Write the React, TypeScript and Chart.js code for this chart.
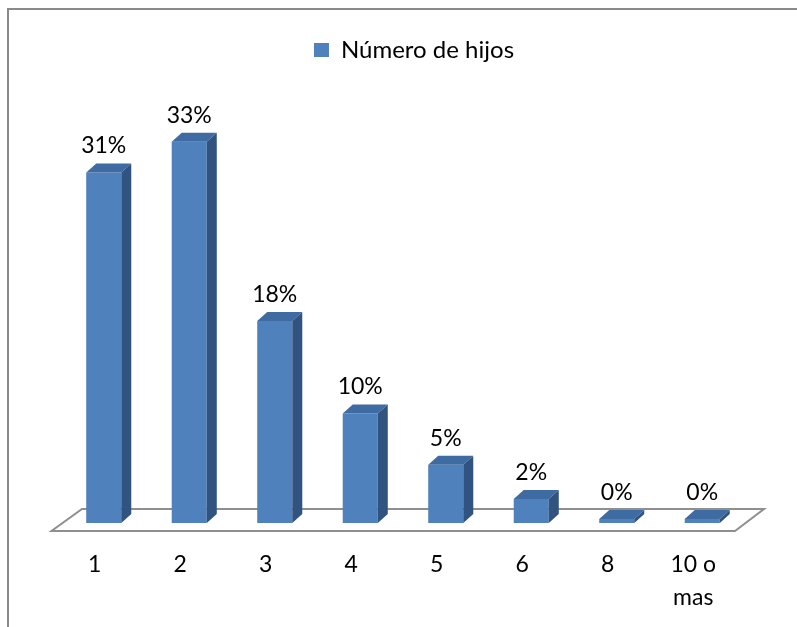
import React, { useEffect, useRef } from 'react';
import { Chart, registerables } from 'chart.js';

Chart.register(...registerables);

// ---- data ----
const CATEGORIES: (string | string[])[] = ['1', '2', '3', '4', '5', '6', '8', ['10 o', 'mas']];
const VALUES: number[] = [30.7, 33.4, 17.7, 9.6, 5.1, 2.1, 0.35, 0.35];
const SERIES_LABEL = 'Número de hijos';

// ---- styles ----
const FONT = 'Lato';
const FRONT = '#4F81BD';
const TOP = '#3F6BA3';
const SIDE = '#31537F';
const DEPTH = { dx: 10, dy: -9 };
const FLOOR_COLOR = '#8f8f8f';

const floorPlugin = {
  id: 'floor3d',
  beforeDatasetsDraw(chart: any) {
    const { ctx, chartArea } = chart;
    const yb = chart.scales.y.getPixelForValue(0);
    const { left, right } = chartArea;
    const fy = yb + 8;
    const by = yb - 14;
    ctx.save();
    ctx.beginPath();
    ctx.moveTo(left - 9.5, fy);
    ctx.lineTo(right - 10, fy);
    ctx.lineTo(right + 19, by);
    ctx.lineTo(left + 21, by);
    ctx.closePath();
    ctx.lineWidth = 2;
    ctx.strokeStyle = FLOOR_COLOR;
    ctx.stroke();
    ctx.restore();
  },
};

const bar3dPlugin = {
  id: 'bar3d',
  afterDatasetsDraw(chart: any) {
    const { ctx } = chart;
    const meta = chart.getDatasetMeta(0);
    const ds = chart.data.datasets[0];
    ctx.save();
    meta.data.forEach((el: any, i: number) => {
      const { x, y, base, width } = el.getProps(['x', 'y', 'base', 'width'], true);
      const x0 = x - width / 2;
      const x1 = x + width / 2;
      // top
      ctx.beginPath();
      ctx.moveTo(x0, y);
      ctx.lineTo(x1, y);
      ctx.lineTo(x1 + DEPTH.dx, y + DEPTH.dy);
      ctx.lineTo(x0 + DEPTH.dx, y + DEPTH.dy);
      ctx.closePath();
      ctx.fillStyle = TOP;
      ctx.fill();
      // side
      ctx.beginPath();
      ctx.moveTo(x1, y);
      ctx.lineTo(x1 + DEPTH.dx, y + DEPTH.dy);
      ctx.lineTo(x1 + DEPTH.dx, base + DEPTH.dy);
      ctx.lineTo(x1, base);
      ctx.closePath();
      ctx.fillStyle = SIDE;
      ctx.fill();
      // value label
      const v = ds.data[i] as number;
      ctx.fillStyle = '#000';
      ctx.font = `23px ${FONT}`;
      ctx.textAlign = 'center';
      ctx.textBaseline = 'alphabetic';
      ctx.fillText(`${Math.round(v)}%`, x, y - 19);
    });
    ctx.restore();
  },
};

const borderPlugin = {
  id: 'outerBorder',
  afterDraw(chart: any) {
    const { ctx, width, height } = chart;
    ctx.save();
    ctx.strokeStyle = '#8a8a8a';
    ctx.lineWidth = 2;
    ctx.beginPath();
    ctx.moveTo(8, height);
    ctx.lineTo(8, 9);
    ctx.lineTo(width, 9);
    ctx.stroke();
    ctx.restore();
  },
};

export default function App() {
  const ref = useRef<HTMLCanvasElement | null>(null);
  useEffect(() => {
    if (!ref.current) return;
    const chart = new Chart(ref.current, {
      type: 'bar',
      data: {
        labels: CATEGORIES as any,
        datasets: [
          {
            label: SERIES_LABEL,
            data: VALUES,
            backgroundColor: FRONT,
            borderWidth: 0,
            categoryPercentage: 1,
            barPercentage: 0.41,
          },
        ],
      },
      options: {
        responsive: false,
        animation: false,
        events: [],
        layout: { padding: { top: 28, left: 61, right: 30, bottom: 0 } },
        plugins: {
          tooltip: { enabled: false },
          legend: {
            display: true,
            position: 'top',
            labels: {
              boxWidth: 15,
              boxHeight: 14,
              padding: 10,
              color: '#000',
              font: { family: FONT, size: 24 },
            },
          },
        },
        scales: {
          x: {
            type: 'category',
            offset: true,
            grid: { display: false, drawTicks: false },
            border: { display: false },
            ticks: {
              color: '#000',
              font: { family: FONT, size: 23, lineHeight: 1.43 },
              padding: 25,
              labelOffset: -9,
              maxRotation: 0,
              autoSkip: false,
            },
            afterFit(scale: any) {
              scale.height = 104;
            },
          },
          y: {
            position: 'right',
            min: 0,
            max: 39.5,
            grid: { display: false },
            border: { display: false },
            ticks: { display: false },
            afterFit(scale: any) {
              scale.width = 22;
            },
          },
        },
      },
      plugins: [floorPlugin, bar3dPlugin, borderPlugin],
    });
    return () => chart.destroy();
  }, []);
  return (
    <canvas
      ref={ref}
      width={797}
      height={627}
      style={{ position: 'absolute', left: 0, top: 0, display: 'block' }}
    />
  );
}
